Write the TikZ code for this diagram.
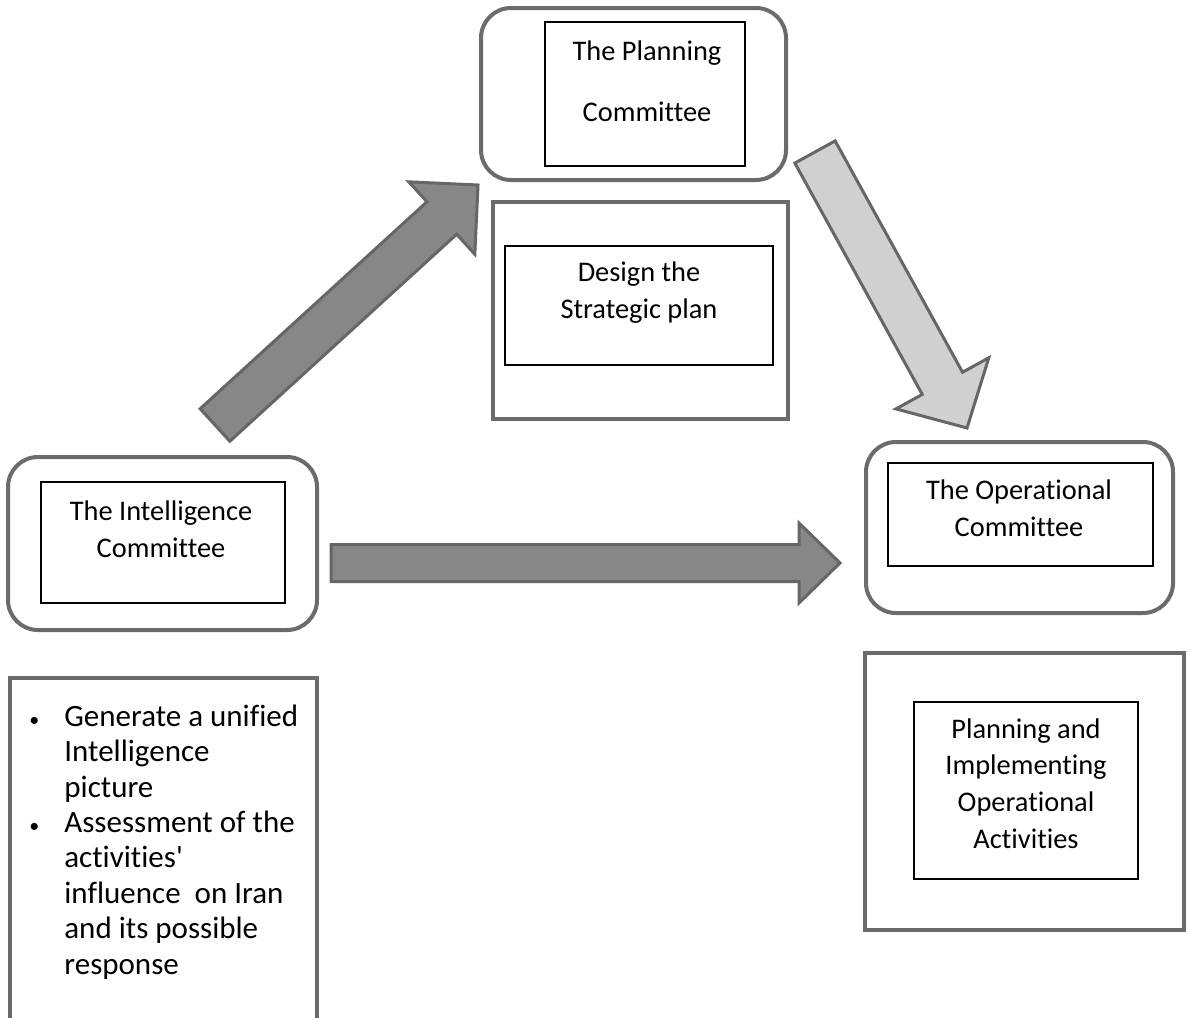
\documentclass[tikz,border=0pt]{standalone}
\usepackage{fontspec}
\setmainfont[Ligatures=NoCommon]{Carlito}
\usepackage{tikz}
\usetikzlibrary{calc}
\definecolor{boxgray}{HTML}{6B6B6B}
\definecolor{arrowedge}{HTML}{666666}
\definecolor{arrowdark}{HTML}{878787}
\definecolor{arrowlight}{HTML}{D0D0D0}
\newcommand{\blockarrow}[6]{%
  \coordinate (bc) at ($(#2)!#5!(#1)$);
  \draw[draw=arrowedge, fill=#6, line width=1.5pt, line join=miter]
    ($(#1)!#3!90:(#2)$) -- ($(bc)!#3!90:(#2)$) -- ($(bc)!#4!90:(#2)$) -- (#2)
    -- ($(bc)!#4!-90:(#2)$) -- ($(bc)!#3!-90:(#2)$) -- ($(#1)!#3!-90:(#2)$) -- cycle;
}
\newcommand{\bul}{\llap{{\fontsize{10pt}{10pt}\selectfont\textbullet}\hspace{12.5pt}}}

\begin{document}
\begin{tikzpicture}[x=0.5pt, y=-0.5pt, font=\fontsize{14.2pt}{18.3pt}\selectfont,
  roundbox/.style={draw=boxgray, line width=2pt, rounded corners=15pt, inner sep=0pt},
  outerbox/.style={draw=boxgray, line width=2.2pt, inner sep=0pt},
  innerbox/.style={draw=black, line width=1pt, inner sep=0pt},
  thinbox/.style={draw=black, line width=0.6pt, inner sep=0pt},
  label/.style={align=center, inner sep=0pt, anchor=base}]
\useasboundingbox (0,0) rectangle (1188,1017);

\node[roundbox, minimum width=152.5pt, minimum height=86pt] (plan) at (633.5,94) {};
\node[innerbox, minimum width=100pt, minimum height=72pt] (planin) at (645,94) {};
\node[label] (plantxt) at (647,121) {The Planning\\[12pt]Committee};

\node[outerbox, minimum width=147.5pt, minimum height=108.5pt] (strat) at (640.5,310.5) {};
\node[innerbox, minimum width=134pt, minimum height=59.5pt] (stratin) at (639,305.5) {};
\node[label] (strattxt) at (639,318) {Design the\\Strategic plan};

\node[roundbox, minimum width=154.5pt, minimum height=86.5pt] (intel) at (162.5,543.5) {};
\node[innerbox, minimum width=122pt, minimum height=60.5pt] (intelin) at (163,542.5) {};
\node[label] (inteltxt) at (161,557) {The Intelligence\\Committee};

\node[outerbox, minimum width=153.5pt, minimum height=182pt] (tasks) at (163.5,860) {};
\node[align=left, inner sep=0pt, anchor=base west, font=\fontsize{15.5pt}{17.7pt}\selectfont] (taskstxt) at (64,974)
  {\bul Generate a unified\\Intelligence\\picture\\\bul Assessment of the\\activities\textquotesingle\\influence\ \ on Iran\\and its possible\\response};

\node[roundbox, minimum width=153.5pt, minimum height=85.5pt] (oper) at (1019.5,527.5) {};
\node[thinbox, minimum width=132.5pt, minimum height=51.5pt] (operin) at (1020.5,514.5) {};
\node[label] (opertxt) at (1019,536) {The Operational\\Committee};

\node[outerbox, minimum width=159.5pt, minimum height=138.5pt] (act) at (1024.5,791.5) {};
\node[thinbox, minimum width=112pt, minimum height=88.5pt] (actin) at (1026,790.5) {};
\node[label] (acttxt) at (1026,848) {Planning and\\Implementing\\Operational\\Activities};

\coordinate (upfrom) at (215,425);
\coordinate (upto) at (478,185);
\coordinate (rightfrom) at (331,563);
\coordinate (rightto) at (840,563);
\coordinate (downfrom) at (815,152);
\coordinate (downto) at (967,428);

\blockarrow{upfrom}{upto}{11pt}{24.5pt}{24.5pt}{arrowdark}
\blockarrow{rightfrom}{rightto}{9.25pt}{20pt}{20.5pt}{arrowdark}
\blockarrow{downfrom}{downto}{11.5pt}{26.5pt}{25.5pt}{arrowlight}
\end{tikzpicture}
\end{document}
